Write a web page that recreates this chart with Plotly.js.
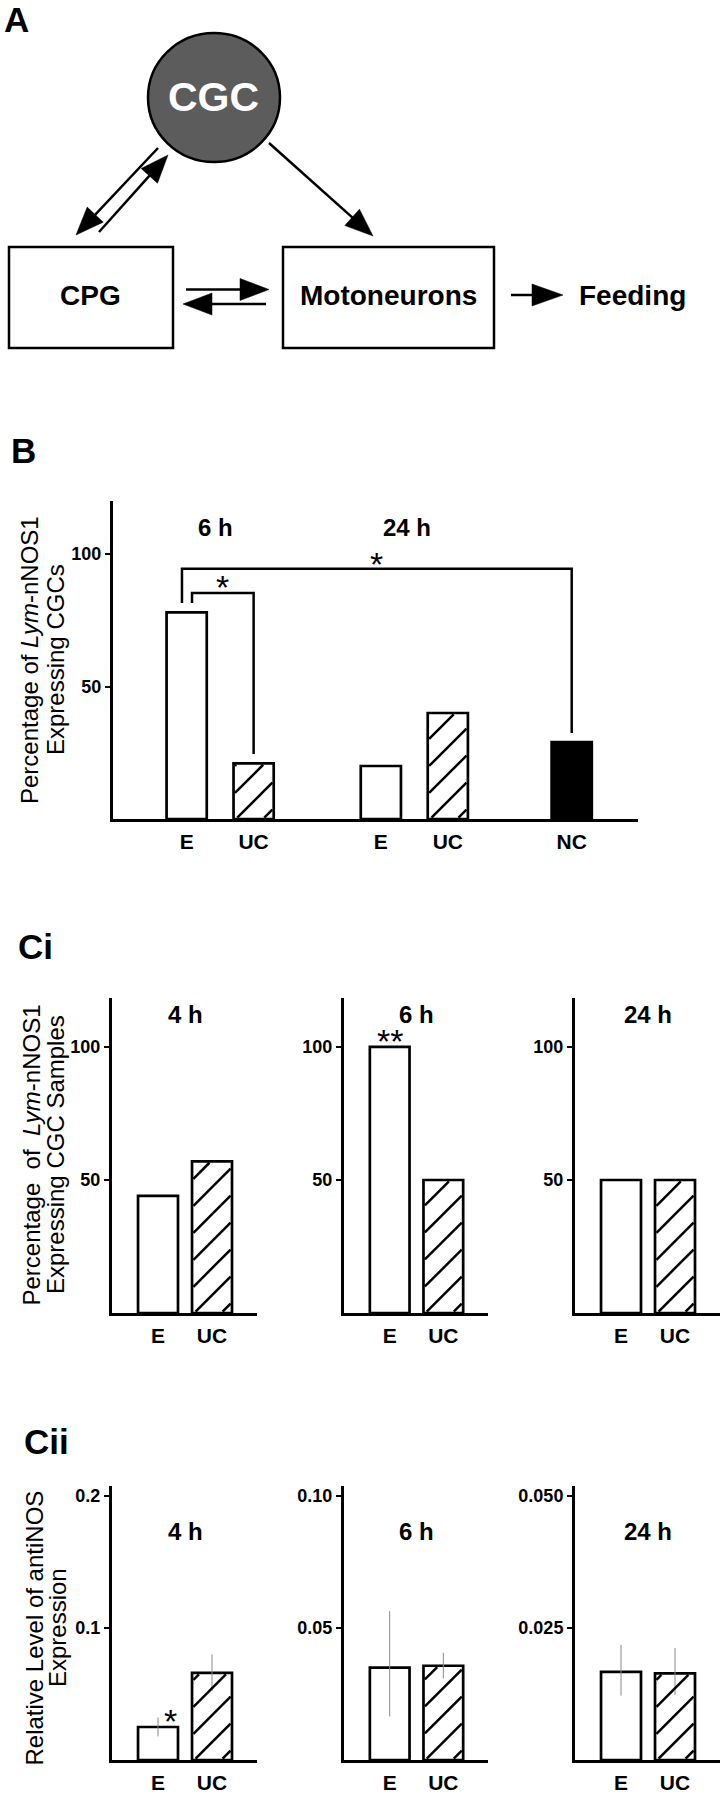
<!DOCTYPE html>
<html><head><meta charset="utf-8">
<script src="https://cdn.plot.ly/plotly-3.0.1.min.js"></script>
<style>body{margin:0;background:#fff}#chart{width:720px;height:1800px}</style>
</head><body><div id="chart"></div>
<script>
// ---------------- DATA ----------------
// Panel B
const bCategories = ['E', 'UC', 'E', 'UC', 'NC'];
const bGroups = ['6 h', '24 h'];
const bValues = [78, 21, 20, 40, 29];
const bFills = ['open', 'hatched', 'open', 'hatched', 'solid'];

// Panel Ci (percentage of Lym-nNOS1 expressing CGC samples)
const ciTimes = ['4 h', '6 h', '24 h'];
const ciCategories = ['E', 'UC'];
const ciFills = ['open', 'hatched'];
const ci4h = [44, 57];
const ci6h = [100, 50];
const ci24h = [50, 50];

// Panel Cii (relative level of antiNOS expression)
const ciiTimes = ['4 h', '6 h', '24 h'];
const ciiCategories = ['E', 'UC'];
const cii4h = [0.025, 0.066];
const cii4hErrUp = [0.0072, 0.014];
const cii4hErrDown = [0.0071, 0.0135];
const cii6h = [0.035, 0.0357];
const cii6hErrUp = [0.0214, 0.0049];
const cii6hErrDown = [0.0185, 0.0048];
const cii24h = [0.0167, 0.0164];
const cii24hErrUp = [0.0051, 0.0048];
const cii24hErrDown = [0.0045, 0.0041];
const ciiTickVals = [[0.1, 0.2], [0.05, 0.10], [0.025, 0.050]];
const ciiTickText = [['0.1', '0.2'], ['0.05', '0.10'], ['0.025', '0.050']];

// ---------------- HELPERS ----------------
const W = 720, H = 1800;
const px = x => x / W;
const py = y => 1 - y / H;
const FONT = 'Liberation Sans, Arial, Helvetica, sans-serif';
const shapes = [], annotations = [], traces = [];

function ann(text, x, y, size, weight, extra) {
  annotations.push(Object.assign({
    text: text, xref: 'paper', yref: 'paper', x: px(x), y: py(y),
    showarrow: false, xanchor: 'center', yanchor: 'middle',
    font: {family: FONT, size: size, color: 'black', weight: weight}
  }, extra || {}));
}

function arrow(x1, y1, x2, y2, hl, hw) {
  const dx = x2 - x1, dy = y2 - y1, L = Math.hypot(dx, dy);
  const ux = dx / L, uy = dy / L;
  const bx = x2 - ux * hl, by = y2 - uy * hl;
  const nx = -uy, ny = ux;
  shapes.push({type: 'line', xref: 'paper', yref: 'paper',
    x0: px(x1), y0: py(y1), x1: px(bx + ux * 2), y1: py(by + uy * 2),
    line: {color: 'black', width: 2.5}});
  shapes.push({type: 'path', xref: 'paper', yref: 'paper',
    path: 'M' + px(x2) + ',' + py(y2) + ' L' + px(bx + nx * hw) + ',' + py(by + ny * hw) +
          ' L' + px(bx - nx * hw) + ',' + py(by - ny * hw) + ' Z',
    fillcolor: 'black', line: {color: 'black', width: 0.5}});
}

function barStyle(kinds) {
  return {
    color: kinds.map(k => k === 'solid' ? 'black' : 'white'),
    line: {color: 'black', width: 2.7}
  };
}

// Diagonal "/" hatching for a bar, computed from the bar's data value and the axis scale
const HATCH_STEP = 27, INSET = 1.4;
function hatch(xref, yref, xCenter, halfW, value, pxPerX, pxPerY) {
  const wpx = 2 * halfW * pxPerX - 2 * INSET;
  const hpx = value * pxPerY - 2 * INSET;
  const x0d = xCenter - halfW + INSET / pxPerX;
  const y0d = INSET / pxPerY;
  for (let c = -wpx + 8; c < hpx; c += HATCH_STEP) {
    const xa = Math.max(0, -c), xb = Math.min(wpx, hpx - c);
    if (xb - xa < 1) continue;
    shapes.push({type: 'line', xref: xref, yref: yref,
      x0: x0d + xa / pxPerX, y0: y0d + (xa + c) / pxPerY,
      x1: x0d + xb / pxPerX, y1: y0d + (xb + c) / pxPerY,
      line: {color: 'black', width: 2.5}});
  }
}

function yAxis(topPx, botPx, range, tickvals, ticktext, anchor) {
  return {domain: [py(botPx), py(topPx)], range: range, tickvals: tickvals, ticktext: ticktext,
    anchor: anchor, showline: true, linecolor: 'black', linewidth: 3,
    ticks: 'outside', ticklen: 5, tickwidth: 2, tickcolor: 'black',
    showgrid: false, zeroline: false, fixedrange: true,
    tickfont: {family: FONT, size: 18, color: 'black', weight: 'bold'}};
}
function xAxis(leftPx, rightPx, range, anchor, extra) {
  return Object.assign({domain: [px(leftPx), px(rightPx)], range: range, anchor: anchor,
    showline: true, linecolor: 'black', linewidth: 3, ticks: '',
    showgrid: false, zeroline: false, fixedrange: true, ticklabelstandoff: 2,
    tickfont: {family: FONT, size: 21, color: 'black', weight: 'bold'}}, extra || {});
}

// ---------------- PANEL A (diagram) ----------------
ann('A', 2, 20, 35, 'bold', {xanchor: 'left'});
shapes.push({type: 'circle', xref: 'paper', yref: 'paper',
  x0: px(148), x1: px(280), y0: py(162), y1: py(33),
  fillcolor: '#5c5c5c', line: {color: 'black', width: 2.5}});
ann('CGC', 213, 97, 41, 'bold', {font: {family: FONT, size: 41, color: 'white', weight: 'bold'}});
shapes.push({type: 'rect', xref: 'paper', yref: 'paper', x0: px(9), x1: px(173), y0: py(348), y1: py(247),
  line: {color: 'black', width: 2.5}});
shapes.push({type: 'rect', xref: 'paper', yref: 'paper', x0: px(283), x1: px(494), y0: py(348), y1: py(247),
  line: {color: 'black', width: 2.5}});
ann('CPG', 90, 296, 28, 'bold');
ann('Motoneurons', 388, 296, 28, 'bold');
ann('Feeding', 577, 296, 28, 'bold', {xanchor: 'left'});
arrow(158, 148, 76, 235, 28, 11);
arrow(99, 232, 168, 155, 28, 11);
arrow(269, 143, 373, 236, 28, 11);
arrow(186, 289.5, 269, 289.5, 29, 11);
arrow(266, 304, 183, 304, 29, 11);
arrow(511, 295, 563, 295, 31, 11);

// ---------------- PANEL B ----------------
const B_DOM = {l: 113, r: 638, t: 501, b: 819};
const B_XRANGE = [0, 7.84], B_YRANGE = [0, 120];
const xPosB = [1.1, 2.1, 4.0, 5.0, 6.85];
const bBarW = 0.6;
traces.push({type: 'bar', x: xPosB, y: bValues, width: bBarW, xaxis: 'x', yaxis: 'y',
  marker: barStyle(bFills), hoverinfo: 'skip', showlegend: false, cliponaxis: false});
{
  const ppx = (B_DOM.r - B_DOM.l) / (B_XRANGE[1] - B_XRANGE[0]);
  const ppy = (B_DOM.b - B_DOM.t) / (B_YRANGE[1] - B_YRANGE[0]);
  bValues.forEach((v, i) => { if (bFills[i] === 'hatched') hatch('x', 'y', xPosB[i], bBarW / 2, v, ppx, ppy); });
}
ann('B', 9, 450, 35, 'bold', {xanchor: 'left'});
ann('Percentage of <i>Lym</i>-nNOS1', 29, 660, 24, 'normal', {textangle: -90});
ann('Expressing CGCs', 55, 660, 24, 'normal', {textangle: -90});
ann(bGroups[0], 215, 527, 24, 'bold');
ann(bGroups[1], 407, 527, 24, 'bold');
// significance brackets
const legGap = 3.5;
const bigTop = 94.4, smallTop = 85.3;
const bigL = xPosB[0] - 0.07, smallL = xPosB[0] + 0.08;
shapes.push({type: 'path', xref: 'x', yref: 'y',
  path: 'M' + bigL + ',' + (bValues[0] + legGap) + ' L' + bigL + ',' + bigTop + ' L' + xPosB[4] + ',' + bigTop +
        ' L' + xPosB[4] + ',' + (bValues[4] + legGap),
  line: {color: 'black', width: 2.5}});
shapes.push({type: 'path', xref: 'x', yref: 'y',
  path: 'M' + smallL + ',' + (bValues[0] + legGap) + ' L' + smallL + ',' + smallTop + ' L' + xPosB[1] + ',' + smallTop +
        ' L' + xPosB[1] + ',' + (bValues[1] + legGap),
  line: {color: 'black', width: 2.5}});
annotations.push({text: '*', xref: 'x', yref: 'y', x: (bigL + xPosB[4]) / 2, y: bigTop, yshift: 5,
  showarrow: false, xanchor: 'center', yanchor: 'middle', font: {family: FONT, size: 34, color: 'black'}});
annotations.push({text: '*', xref: 'x', yref: 'y', x: (smallL + xPosB[1]) / 2, y: smallTop, yshift: 6,
  showarrow: false, xanchor: 'center', yanchor: 'middle', font: {family: FONT, size: 34, color: 'black'}});

// ---------------- PANELS Ci / Cii ----------------
const catRange = [-0.852, 1.833];
const catBarW = 0.74;
const panelX = [[112, 257], [344, 488], [575, 720]];
const CI_DOM = {t: 998, b: 1313}, CI_YRANGE = [0, 118.4];
const CII_DOM = {t: 1486, b: 1760};
const ciiTops = [0.2076, 0.1038, 0.0519];

const ciData = [ci4h, ci6h, ci24h];
ciData.forEach((vals, i) => {
  traces.push({type: 'bar', x: ciCategories, y: vals, width: catBarW,
    xaxis: 'x' + (i + 2), yaxis: 'y' + (i + 2), marker: barStyle(ciFills),
    hoverinfo: 'skip', showlegend: false, cliponaxis: false});
  const ppx = (panelX[i][1] - panelX[i][0]) / (catRange[1] - catRange[0]);
  const ppy = (CI_DOM.b - CI_DOM.t) / (CI_YRANGE[1] - CI_YRANGE[0]);
  vals.forEach((v, j) => { if (ciFills[j] === 'hatched') hatch('x' + (i + 2), 'y' + (i + 2), j, catBarW / 2, v, ppx, ppy); });
  annotations.push({text: ciTimes[i], xref: 'x' + (i + 2), yref: 'paper', x: 0.5, y: py(1014),
    showarrow: false, xanchor: 'center', yanchor: 'middle',
    font: {family: FONT, size: 24, color: 'black', weight: 'bold'}});
});
ann('Ci', 16, 946, 35, 'bold', {xanchor: 'left'});
ann('Percentage\u00a0\u00a0of\u00a0\u00a0<i>Lym</i>-nNOS1', 30.5, 1155, 24, 'normal', {textangle: -90});
ann('Expressing CGC Samples', 55, 1155, 24, 'normal', {textangle: -90});
annotations.push({text: '**', xref: 'x3', yref: 'y3', x: 'E', y: ci6h[0], yshift: 6,
  showarrow: false, xanchor: 'center', yanchor: 'middle', font: {family: FONT, size: 34, color: 'black'}});

const ciiData = [cii4h, cii6h, cii24h];
const ciiUp = [cii4hErrUp, cii6hErrUp, cii24hErrUp];
const ciiDown = [cii4hErrDown, cii6hErrDown, cii24hErrDown];
ciiData.forEach((vals, i) => {
  traces.push({type: 'bar', x: ciiCategories, y: vals, width: catBarW,
    xaxis: 'x' + (i + 5), yaxis: 'y' + (i + 5), marker: barStyle(ciFills),
    error_y: {type: 'data', symmetric: false, array: ciiUp[i], arrayminus: ciiDown[i],
              color: '#8a8a8a', thickness: 1, width: 0},
    hoverinfo: 'skip', showlegend: false, cliponaxis: false});
  const ppx = (panelX[i][1] - panelX[i][0]) / (catRange[1] - catRange[0]);
  const ppy = (CII_DOM.b - CII_DOM.t) / ciiTops[i];
  vals.forEach((v, j) => { if (ciFills[j] === 'hatched') hatch('x' + (i + 5), 'y' + (i + 5), j, catBarW / 2, v, ppx, ppy); });
  annotations.push({text: ciiTimes[i], xref: 'x' + (i + 5), yref: 'paper', x: 0.5, y: py(1531),
    showarrow: false, xanchor: 'center', yanchor: 'middle',
    font: {family: FONT, size: 24, color: 'black', weight: 'bold'}});
});
ann('Cii', 22, 1441, 35, 'bold', {xanchor: 'left'});
ann('Relative Level of antiNOS', 33.5, 1628, 24, 'normal', {textangle: -90});
ann('Expression', 57, 1628, 24, 'normal', {textangle: -90});
annotations.push({text: '*', xref: 'x5', yref: 'y5', x: 'E', y: cii4h[0], xshift: 12, yshift: 6,
  showarrow: false, xanchor: 'center', yanchor: 'middle', font: {family: FONT, size: 34, color: 'black'}});

// ---------------- LAYOUT ----------------
const layout = {
  width: 720, height: 1800, margin: {l: 0, r: 0, t: 0, b: 0, pad: 0},
  paper_bgcolor: 'white', plot_bgcolor: 'rgba(0,0,0,0)', showlegend: false,
  font: {family: FONT, color: 'black'},
  shapes: shapes, annotations: annotations,
  xaxis: xAxis(B_DOM.l, B_DOM.r, B_XRANGE, 'y', {tickvals: xPosB, ticktext: bCategories}),
  yaxis: yAxis(B_DOM.t, B_DOM.b, B_YRANGE, [50, 100], ['50', '100'], 'x')
};
for (let i = 0; i < 3; i++) {
  layout['xaxis' + (i + 2)] = xAxis(panelX[i][0], panelX[i][1], catRange, 'y' + (i + 2), {type: 'category'});
  layout['yaxis' + (i + 2)] = yAxis(CI_DOM.t, CI_DOM.b, CI_YRANGE, [50, 100], ['50', '100'], 'x' + (i + 2));
  layout['xaxis' + (i + 5)] = xAxis(panelX[i][0], panelX[i][1], catRange, 'y' + (i + 5), {type: 'category'});
  layout['yaxis' + (i + 5)] = yAxis(CII_DOM.t, CII_DOM.b, [0, ciiTops[i]], ciiTickVals[i], ciiTickText[i], 'x' + (i + 5));
}

Plotly.newPlot('chart', traces, layout, {staticPlot: true, displayModeBar: false});
</script>
</body></html>
